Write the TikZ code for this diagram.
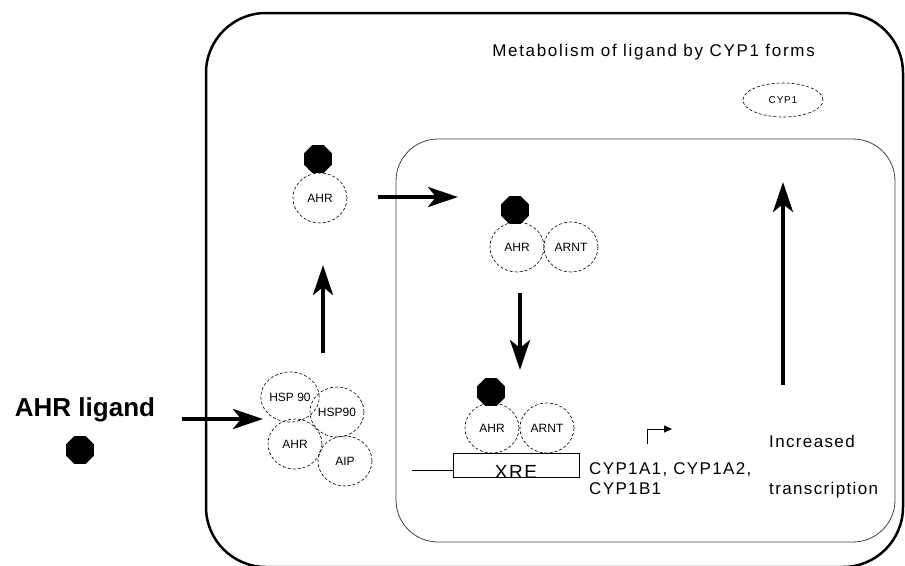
\documentclass[tikz,border=0pt]{standalone}
\usepackage{fontspec}
\setmainfont{Liberation Sans}
\newfontfamily\spacedfont[LetterSpace=8]{Liberation Sans}
\newfontfamily\widefont[LetterSpace=10]{Liberation Sans}
\usetikzlibrary{arrows.meta,shapes.geometric}

\begin{document}
\begin{tikzpicture}[x=1pt,y=-1pt,
    prot/.style={ellipse, draw, densely dashed, line width=0.6pt, minimum width=54pt, minimum height=50pt, inner sep=0pt, font=\fontsize{12}{12}\selectfont},
    lig/.style={regular polygon, regular polygon sides=8, fill=black, minimum size=30pt, inner sep=0pt},
    fat/.style={line width=4pt, -{Stealth[length=30pt,width=20pt,inset=8pt]}},
    txt/.style={inner sep=0pt, font=\spacedfont\fontsize{17}{17}\selectfont}]
  \useasboundingbox (0,0) rectangle (905,565);
  % Cell and nucleus
  \draw[line width=2.5pt, rounded corners=60pt] (206,13) rectangle (903,567);
  \draw[line width=0.8pt, black!75, rounded corners=42pt] (396,139) rectangle (895,542);
  \node[txt, anchor=base east, font=\widefont\fontsize{17}{17}\selectfont] (title) at (815,56) {Metabolism of ligand by CYP1 forms};
  \node[ellipse, draw, densely dashed, line width=0.6pt, minimum width=80pt, minimum height=34pt, inner sep=0pt, font=\spacedfont\fontsize{10}{10}\selectfont] (cyp) at (783,100) {CYP1};
  % Free ligand
  \node[font=\bfseries\fontsize{26}{26}\selectfont, inner sep=0pt] (ligLabel) at (85,410) {AHR ligand};
  \node[lig] (ligFree) at (80,450) {};
  % Cytosolic complex
  \node[prot] (hspA) at (290,397) {HSP 90};
  \node[prot] (hspB) at (337,412) {HSP90};
  \node[prot] (ahrCplx) at (295,444) {AHR};
  \node[prot] (aip) at (345,461) {AIP};
  % Ligand-bound AHR
  \node[prot] (ahrCyto) at (320,198) {AHR};
  \node[lig] (ligCyto) at (318,159) {};
  % AHR-ARNT in nucleus
  \node[prot] (ahrNuc) at (517,247) {AHR};
  \node[prot] (arntNuc) at (571,247) {ARNT};
  \node[lig] (ligNuc) at (515,210) {};
  % Binding to XRE
  \node[draw, line width=0.8pt, minimum width=126pt, minimum height=24pt, inner sep=0pt] (xre) at (516,465) {};
  \node[txt, anchor=base, font=\spacedfont\fontsize{19}{19}\selectfont] (xreLabel) at (516,478) {XRE};
  \node[prot] (ahrXre) at (492,428) {AHR};
  \node[prot] (arntXre) at (547,428) {ARNT};
  \node[lig] (ligXre) at (491,392) {};
  \coordinate (dna) at (412,470);
  \draw[line width=0.8pt] (dna) -- (dna -| xre.west);
  % Genes and transcription
  \node[txt, anchor=base west] (genesA) at (589,474) {CYP1A1, CYP1A2,};
  \node[txt, anchor=base west] (genesB) at (589,494) {CYP1B1};
  \node[txt, anchor=base west] (incr) at (769,447) {Increased};
  \node[txt, anchor=base west] (transcr) at (769,494) {transcription};
  \coordinate (tss) at (647,444);
  \coordinate (tssEnd) at (672,429);
  \draw[line width=0.8pt, -{Triangle[length=8pt,width=7pt]}] (tss) |- (tssEnd);
  % Pathway arrows
  \coordinate (a1) at (182,419); \coordinate (a2) at (263,419);
  \coordinate (b1) at (323,353); \coordinate (b2) at (323,265);
  \coordinate (c1) at (378,197); \coordinate (c2) at (458,197);
  \coordinate (d1) at (520,293); \coordinate (d2) at (520,370);
  \coordinate (e1) at (783,385); \coordinate (e2) at (783,182);
  \draw[fat] (a1) -- (a2);
  \draw[fat] (b1) -- (b2);
  \draw[fat] (c1) -- (c2);
  \draw[fat] (d1) -- (d2);
  \draw[fat] (e1) -- (e2);
\end{tikzpicture}
\end{document}
